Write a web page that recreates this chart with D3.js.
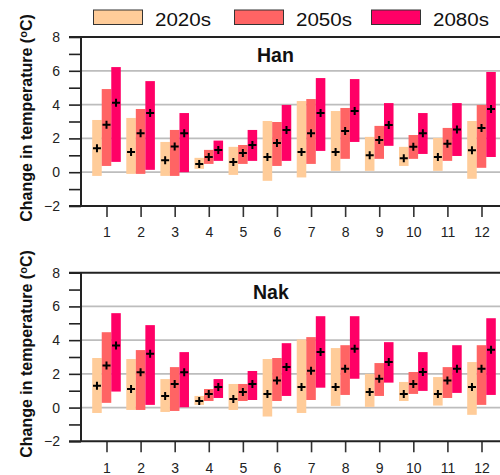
<!DOCTYPE html>
<html>
<head>
<meta charset="utf-8">
<script src="https://cdn.jsdelivr.net/npm/d3@7/dist/d3.min.js"></script>
<style>
  body { margin: 0; background: #fff; }
  svg { display: block; font-family: "Liberation Sans", Arial, sans-serif; }
</style>
</head>
<body>
<svg id="chart" width="500" height="475"></svg>
<script>
// Monthly change in temperature (ºC) per period: range (low..high) and median.
const months = [1, 2, 3, 4, 5, 6, 7, 8, 9, 10, 11, 12];
const periods = ["2020s", "2050s", "2080s"];
const periodColors = ["#FFCC99", "#FF6464", "#FF0066"];
const yTickValues = [-2, 0, 2, 4, 6, 8];
const gridValues = [0, 2, 4, 6];

// Han
const hanLow2020s  = [-0.22, -0.10, -0.22, 0.20, -0.16, -0.51, -0.31, 0.08, 0.08, 0.37, 0.08, -0.39];
const hanMid2020s  = [1.42, 1.20, 0.71, 0.49, 0.61, 0.90, 1.20, 1.20, 1.00, 0.83, 0.90, 1.30];
const hanHigh2020s = [3.09, 3.21, 1.79, 0.85, 1.50, 3.03, 4.21, 3.62, 2.09, 1.50, 2.03, 3.03];
const hanLow2050s  = [0.37, -0.10, -0.22, 0.49, 0.49, 0.37, 0.49, 0.79, 0.79, 0.79, 0.67, 0.26];
const hanMid2050s  = [2.81, 2.30, 1.52, 0.90, 1.14, 1.73, 2.30, 2.44, 1.91, 1.50, 1.69, 2.62];
const hanHigh2050s = [4.92, 3.74, 2.50, 1.32, 1.61, 2.97, 4.33, 3.80, 2.74, 2.20, 2.62, 3.98];
const hanLow2080s  = [0.61, 0.14, 0.00, 0.67, 0.67, 0.67, 1.26, 1.79, 1.56, 1.08, 0.96, 0.90];
const hanMid2080s  = [4.11, 3.50, 2.30, 1.32, 1.61, 2.50, 3.50, 3.62, 2.80, 2.30, 2.52, 3.74];
const hanHigh2080s = [6.22, 5.39, 3.50, 1.87, 2.50, 3.98, 5.57, 5.51, 4.09, 3.50, 4.09, 5.93];

// Nak
const nakLow2020s  = [-0.32, -0.14, -0.26, 0.16, -0.14, -0.53, -0.32, 0.10, 0.04, 0.39, 0.12, -0.43];
const nakMid2020s  = [1.30, 1.10, 0.69, 0.39, 0.51, 0.81, 1.22, 1.22, 0.93, 0.81, 0.81, 1.22];
const nakHigh2020s = [2.94, 2.88, 1.69, 0.69, 1.40, 2.88, 4.04, 3.53, 2.00, 1.52, 1.81, 2.70];
const nakLow2050s  = [0.28, -0.14, -0.20, 0.39, 0.39, 0.39, 0.45, 0.75, 0.69, 0.81, 0.57, 0.16];
const nakMid2050s  = [2.50, 2.10, 1.40, 0.81, 0.93, 1.60, 2.19, 2.30, 1.71, 1.40, 1.60, 2.30];
const nakHigh2050s = [4.47, 3.41, 2.40, 1.10, 1.40, 2.94, 4.18, 3.70, 2.64, 2.11, 2.40, 3.70];
const nakLow2080s  = [0.95, 0.16, 0.02, 0.57, 0.45, 0.69, 1.18, 1.71, 1.48, 0.99, 0.87, 0.75];
const nakMid2080s  = [3.68, 3.19, 2.09, 1.22, 1.40, 2.40, 3.29, 3.49, 2.70, 2.11, 2.30, 3.43];
const nakHigh2080s = [5.60, 4.89, 3.29, 1.69, 2.17, 3.82, 5.42, 5.42, 3.88, 3.29, 3.70, 5.30];

const panels = [
  { name: "Han", top: 37, bottom: 206, titleX: 257, titleY: 61.5, labelY: 118,
    low: [hanLow2020s, hanLow2050s, hanLow2080s],
    mid: [hanMid2020s, hanMid2050s, hanMid2080s],
    high: [hanHigh2020s, hanHigh2050s, hanHigh2080s] },
  { name: "Nak", top: 272.7, bottom: 441.3, titleX: 253, titleY: 299.3, labelY: 354,
    low: [nakLow2020s, nakLow2050s, nakLow2080s],
    mid: [nakMid2020s, nakMid2050s, nakMid2080s],
    high: [nakHigh2020s, nakHigh2050s, nakHigh2080s] }
];

const svg = d3.select("#chart");
const frameLeft = 81, frameRight = 520, axisStart = 69;

const x = d3.scalePoint().domain(months).range([106.5, 481.5]);
const sub = d3.scaleBand().domain(periods).range([-14.3, 14.3]).padding(0);

panels.forEach(p => {
  const y = d3.scaleLinear().domain([-2, 8]).range([p.bottom, p.top]);
  const g = svg.append("g");

  // horizontal reference lines
  g.selectAll("line.grid").data(gridValues).join("line")
    .attr("class", "grid")
    .attr("x1", frameLeft).attr("x2", frameRight)
    .attr("y1", d => y(d)).attr("y2", d => y(d))
    .attr("stroke", "#bdbdbd").attr("stroke-width", 1.8);

  // range bars
  const rows = [];
  months.forEach((m, i) => periods.forEach((s, k) => {
    rows.push({ m, s, k, low: p.low[k][i], mid: p.mid[k][i], high: p.high[k][i] });
  }));

  g.selectAll("rect.bar").data(rows).join("rect")
    .attr("class", "bar")
    .attr("x", d => x(d.m) + sub(d.s))
    .attr("width", sub.bandwidth())
    .attr("y", d => y(d.high))
    .attr("height", d => y(d.low) - y(d.high))
    .attr("fill", d => periodColors[d.k]);

  // medians
  g.selectAll("path.med").data(rows).join("path")
    .attr("class", "med")
    .attr("transform", d => `translate(${x(d.m) + sub(d.s) + sub.bandwidth() / 2},${y(d.mid)})`)
    .attr("d", "M-4,0H4M0,-4V4")
    .attr("stroke", "#000").attr("stroke-width", 2).attr("fill", "none");

  // y axis ticks and labels
  const yAxis = d3.axisLeft(y)
    .tickValues(d3.range(-2, 9, 1))
    .tickSize(frameLeft - axisStart)
    .tickPadding(9)
    .tickFormat(d => (yTickValues.includes(d) ? d3.format("d")(d) : ""));
  const ya = g.append("g").attr("transform", `translate(${frameLeft},0)`).call(yAxis);
  ya.select(".domain").remove();
  ya.selectAll("line").attr("stroke", "#222").attr("stroke-width", 1.6);
  ya.selectAll("text").attr("font-size", 14).attr("fill", "#222")
    .attr("font-family", "Liberation Sans, Arial, sans-serif");

  // x axis ticks and labels
  const xAxis = d3.axisBottom(x).tickSize(11).tickPadding(10.5);
  const xa = g.append("g").attr("transform", `translate(0,${p.bottom})`).call(xAxis);
  xa.select(".domain").remove();
  xa.selectAll("line").attr("stroke", "#333").attr("stroke-width", 1.6);
  xa.selectAll("text").attr("font-size", 14).attr("fill", "#222")
    .attr("font-family", "Liberation Sans, Arial, sans-serif");

  // frame
  g.append("path")
    .attr("d", `M${axisStart},${p.top}H${frameRight}M${axisStart},${p.bottom}H${frameRight}M${frameLeft},${p.top}V${p.bottom}`)
    .attr("stroke", "#222").attr("stroke-width", 2).attr("fill", "none");

  // panel title
  g.append("text")
    .attr("x", p.titleX).attr("y", p.titleY)
    .attr("font-size", 19.5).attr("font-weight", "bold").attr("fill", "#111")
    .text(p.name);

  // y axis title
  const t = g.append("text")
    .attr("transform", `translate(32,${p.labelY}) rotate(-90)`)
    .attr("text-anchor", "middle")
    .attr("font-size", 16).attr("font-weight", "bold").attr("fill", "#111");
  t.append("tspan").text("Change in temperature (");
  t.append("tspan").attr("font-size", 11).attr("dy", -5).text("o");
  t.append("tspan").attr("dy", 5).text("C)");
});

// legend
const legendX = [93.5, 234.5, 371.5];
const legend = svg.append("g");
periods.forEach((s, k) => {
  legend.append("rect")
    .attr("x", legendX[k]).attr("y", 10)
    .attr("width", 49).attr("height", 14.5)
    .attr("fill", periodColors[k]).attr("stroke", "#333").attr("stroke-width", 1);
  legend.append("text")
    .attr("x", legendX[k] + 61.5).attr("y", 25.5)
    .attr("font-size", 18).attr("fill", "#111")
    .attr("textLength", 56).attr("lengthAdjust", "spacingAndGlyphs")
    .text(s);
});
</script>
</body>
</html>
